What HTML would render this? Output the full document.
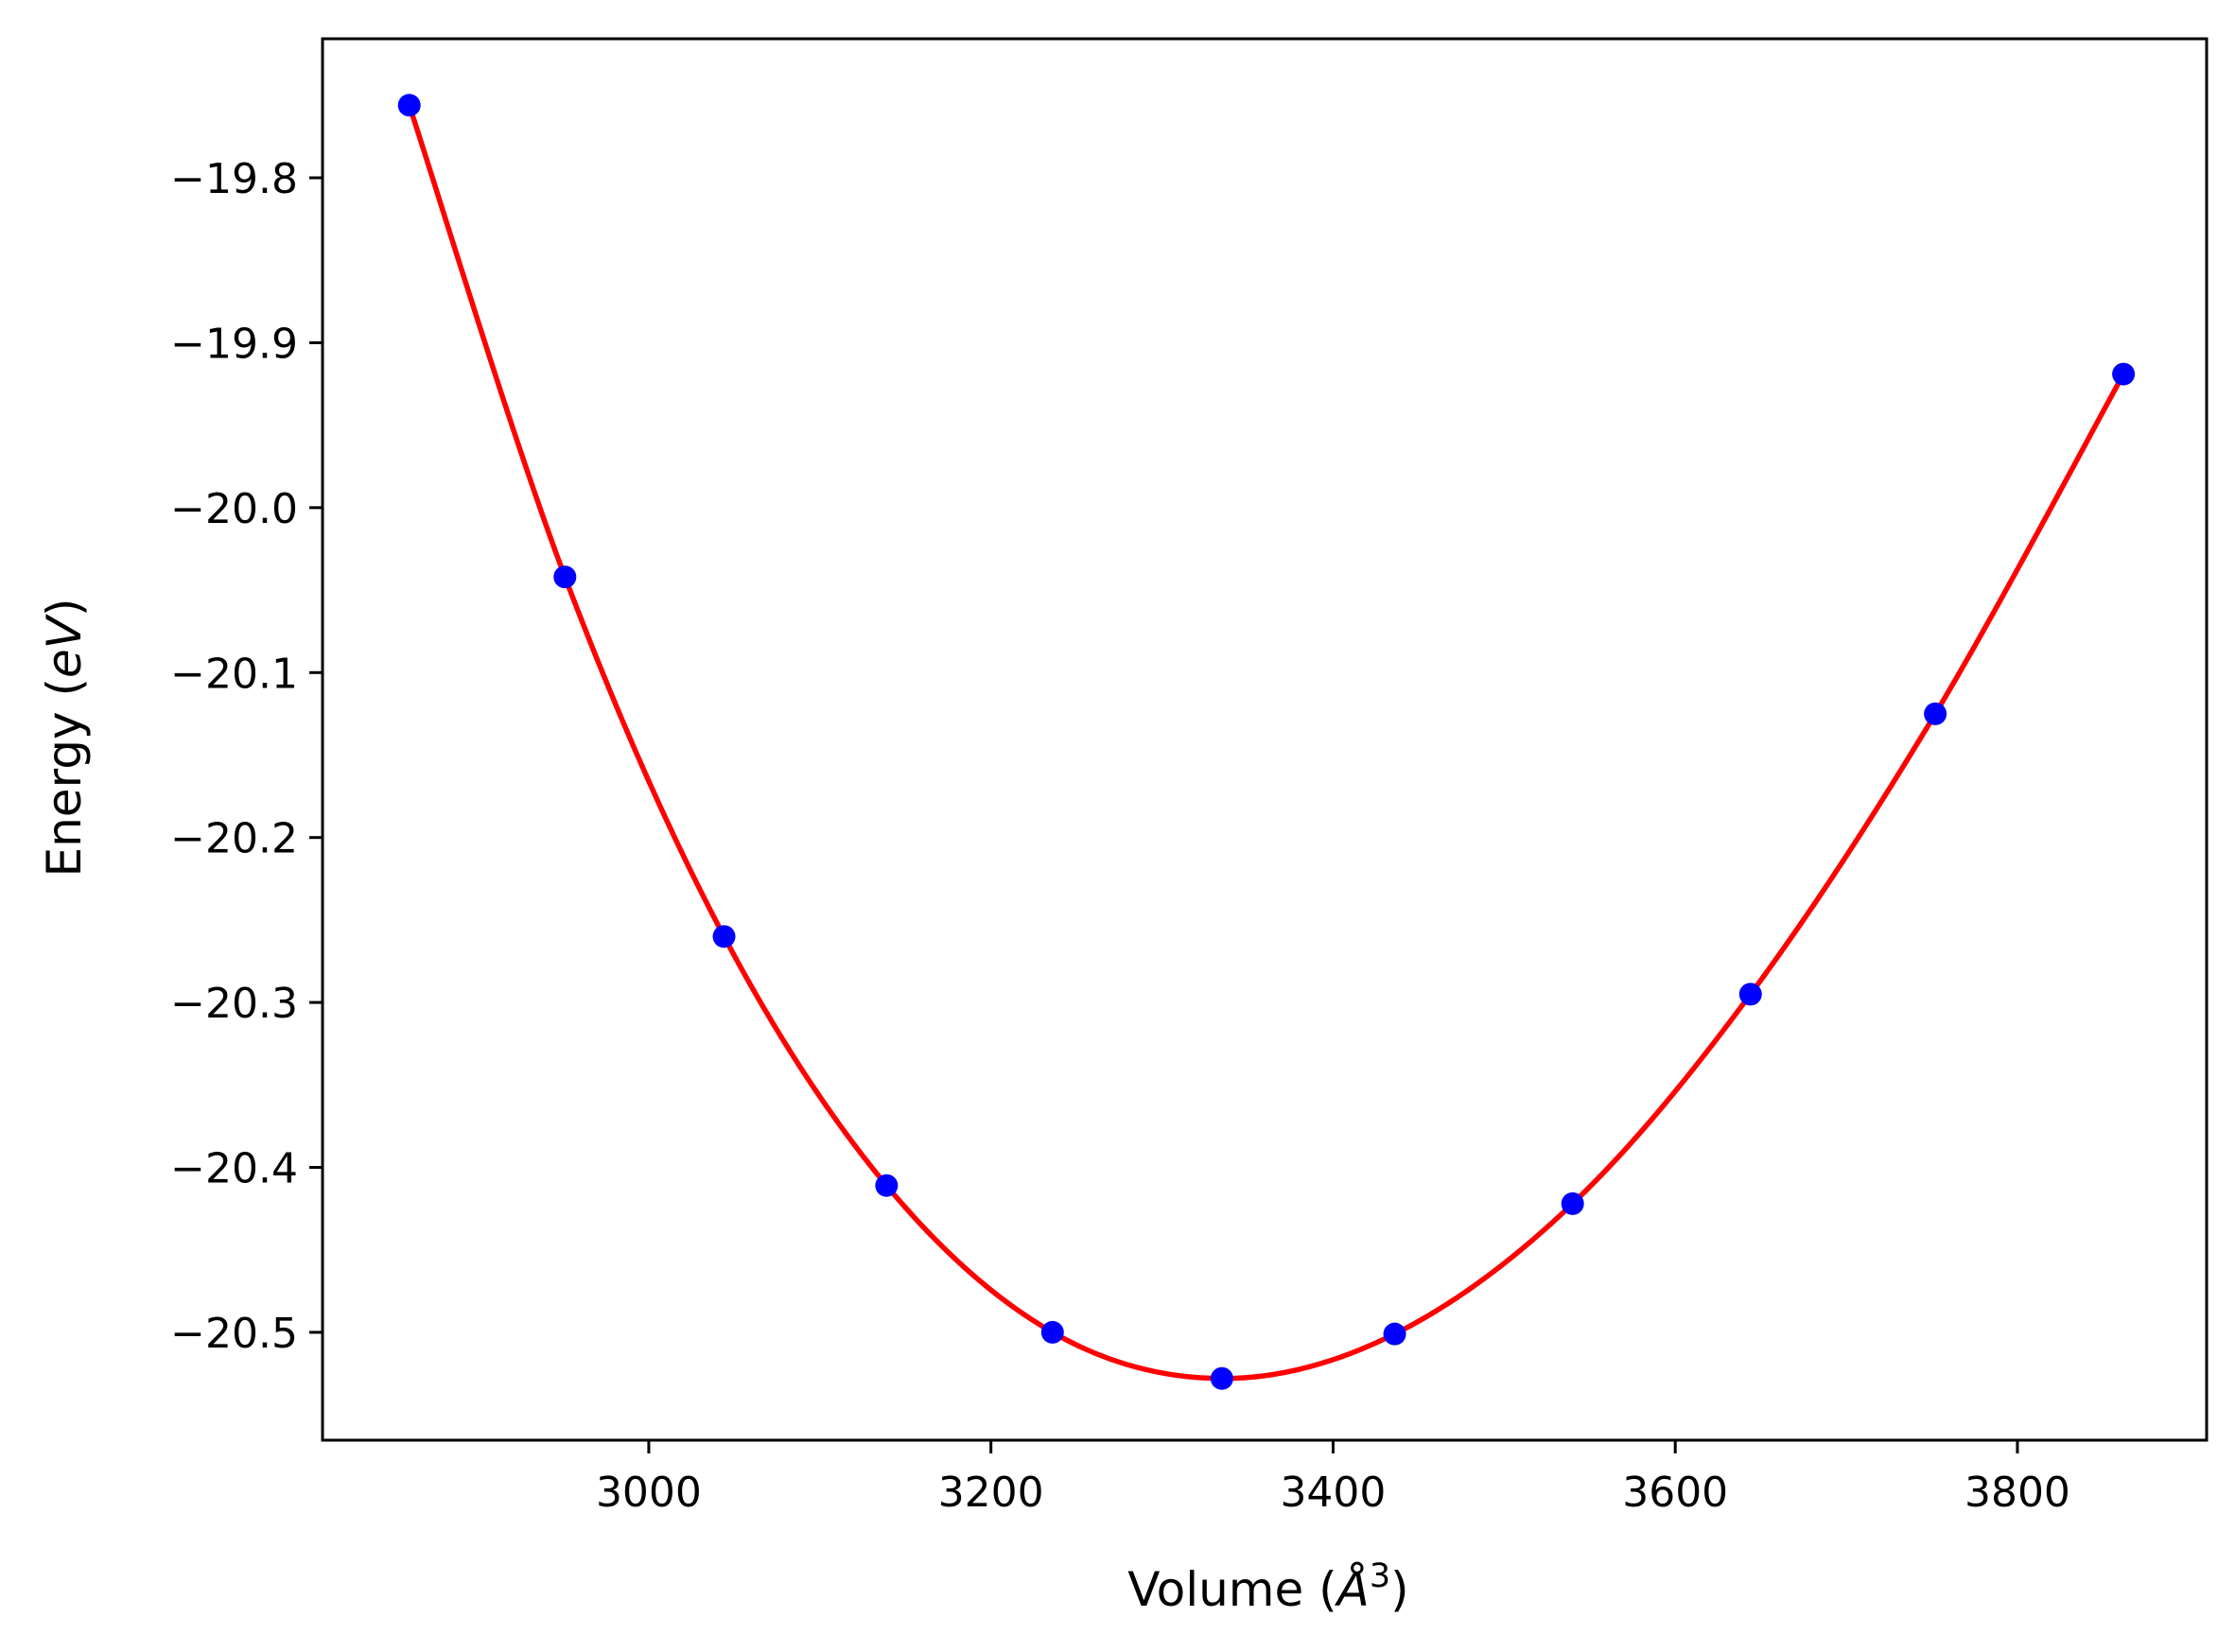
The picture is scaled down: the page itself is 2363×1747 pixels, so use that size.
<!DOCTYPE html>
<html><head><meta charset="utf-8"><style>
html,body{margin:0;padding:0;background:#fff;}
svg{display:block;font-family:"DejaVu Sans","Liberation Sans",sans-serif;}
</style></head><body>
<svg id="chart" width="2363" height="1747" viewBox="0 0 2363 1747">
<rect x="0" y="0" width="2363" height="1747" fill="#fff"/>
<g id="plot"></g>
<g id="xaxis"></g>
<g id="yaxis"></g>
<rect x="341" y="41" width="1992" height="1482" fill="none" stroke="#000" stroke-width="3"/>
<text x="1341" y="1698" font-size="50" text-anchor="middle">Volume (<tspan font-style="italic">Å</tspan><tspan font-size="35" dy="-20">3</tspan><tspan dy="20">)</tspan></text>
<text transform="translate(85,780) rotate(-90)" font-size="50" text-anchor="middle">Energy (<tspan font-style="italic">eV</tspan>)</text>
</svg>
<script>
const volumes = [2860, 2951, 3044, 3139, 3236, 3335, 3436, 3540, 3644, 3752, 3862];
const energies = [-19.756, -20.042, -20.260, -20.411, -20.500, -20.528, -20.501, -20.422, -20.295, -20.125, -19.919];
const xTicks = [3000, 3200, 3400, 3600, 3800];
const yTicks = [-19.8, -19.9, -20.0, -20.1, -20.2, -20.3, -20.4, -20.5];

const L=341,R=2333,T=41,B=1523;
const xMin=2809.3,xMax=3910.6,yMin=-20.5654,yMax=-19.7157;
const sx=v=>L+(v-xMin)/(xMax-xMin)*(R-L);
const sy=v=>B-(v-yMin)/(yMax-yMin)*(B-T);
const NS="http://www.w3.org/2000/svg";
const plot=document.getElementById('plot'),xa=document.getElementById('xaxis'),ya=document.getElementById('yaxis');

const P=volumes.map((v,i)=>[sx(v),sy(energies[i])]);
let d=`M${P[0][0]},${P[0][1]}`;
for(let i=0;i<P.length-1;i++){
  const p0=P[Math.max(0,i-1)],p1=P[i],p2=P[i+1],p3=P[Math.min(P.length-1,i+2)];
  const c1=[p1[0]+(p2[0]-p0[0])/6,p1[1]+(p2[1]-p0[1])/6];
  const c2=[p2[0]-(p3[0]-p1[0])/6,p2[1]-(p3[1]-p1[1])/6];
  d+=` C${c1[0]},${c1[1]} ${c2[0]},${c2[1]} ${p2[0]},${p2[1]}`;
}
const path=document.createElementNS(NS,'path');
path.setAttribute('d',d);path.setAttribute('fill','none');path.setAttribute('stroke','#ff0000');path.setAttribute('stroke-width','5.5');


plot.appendChild(path);

volumes.forEach((v,i)=>{
  const c=document.createElementNS(NS,'circle');
  c.setAttribute('cx',sx(v));c.setAttribute('cy',sy(energies[i]));c.setAttribute('r','12');c.setAttribute('fill','#0000ff');
  
  
  plot.appendChild(c);
});

xTicks.forEach(t=>{
  const x=sx(t);
  const l=document.createElementNS(NS,'line');
  l.setAttribute('x1',x);l.setAttribute('x2',x);l.setAttribute('y1',B);l.setAttribute('y2',B+14);l.setAttribute('stroke','#000');l.setAttribute('stroke-width','3');
  
  
  xa.appendChild(l);
  const tx=document.createElementNS(NS,'text');
  tx.setAttribute('x',x);tx.setAttribute('y',B+70);tx.setAttribute('font-size','44');tx.setAttribute('text-anchor','middle');
  tx.textContent=String(t);
  
  
  xa.appendChild(tx);
});
yTicks.forEach(t=>{
  const y=sy(t);
  const l=document.createElementNS(NS,'line');
  l.setAttribute('x1',L-14);l.setAttribute('x2',L);l.setAttribute('y1',y);l.setAttribute('y2',y);l.setAttribute('stroke','#000');l.setAttribute('stroke-width','3');
  
  
  ya.appendChild(l);
  const tx=document.createElementNS(NS,'text');
  tx.setAttribute('x',L-26);tx.setAttribute('y',y+16);tx.setAttribute('font-size','44');tx.setAttribute('text-anchor','end');
  tx.textContent='\u2212'+Math.abs(t).toFixed(1);
  
  
  ya.appendChild(tx);
});
</script>
</body></html>
